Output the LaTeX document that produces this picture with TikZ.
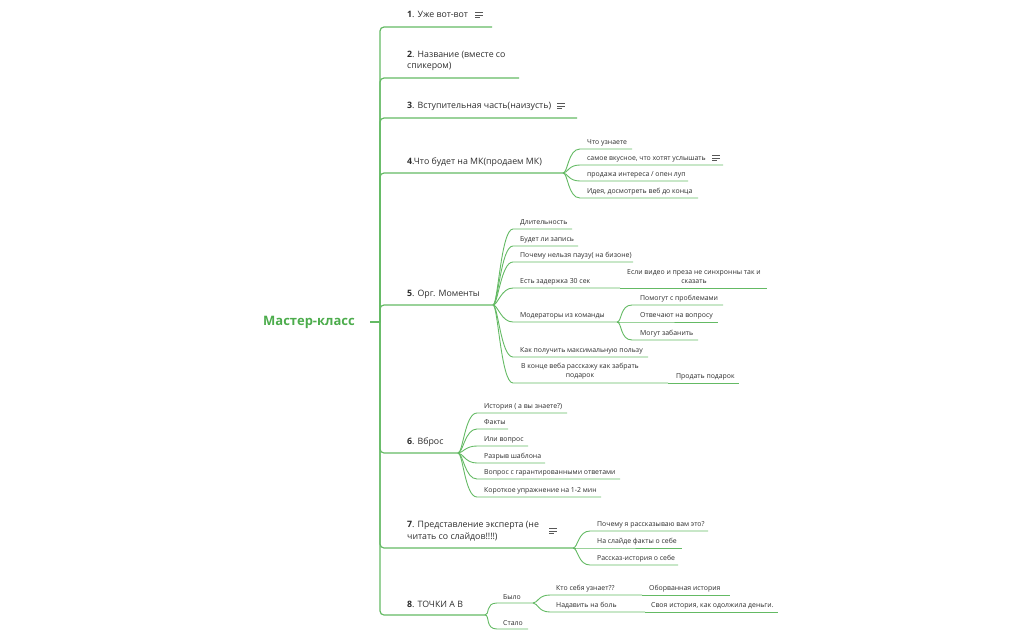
\documentclass[tikz,border=0pt]{standalone}
\usepackage{fontspec}
\setmainfont{Open Sans}
\usetikzlibrary{calc}

\definecolor{linegreen}{RGB}{100,186,100}
\definecolor{rootgreen}{RGB}{76,172,76}
\definecolor{txtgray}{RGB}{45,45,45}

\tikzset{
  txt/.style={text=txtgray, inner sep=0pt, anchor=west},
  main/.style={txt, font=\fontsize{8.8}{11}\selectfont, text height=0.75em, text depth=0.25em},
  maintwo/.style={txt, font=\fontsize{8.8}{11.5}\selectfont, align=left},
  sub/.style={txt, font=\fontsize{6.9}{8.6}\selectfont, text height=0.75em, text depth=0.25em},
  subtwo/.style={txt, font=\fontsize{6.9}{8.6}\selectfont, align=center, anchor=center},
  trunk/.style={draw=linegreen, line width=1.2pt, rounded corners=4pt},
  link/.style={draw=linegreen, line width=0.9pt},
  fan/.style={to path={.. controls +(5,0) and +(-12,0) .. (\tikztotarget)}},
  notes/.pic={\draw[txtgray!80, line width=0.55pt] (0,-2.3) -- (8,-2.3) (0,0) -- (8,0) (0,2.3) -- (5,2.3);}
}

\begin{document}
\begin{tikzpicture}[x=1pt, y=-1pt]
    \useasboundingbox (0,0) rectangle (1025,635);
    % Центр
    \node[font=\fontsize{13}{15}\selectfont\bfseries, text=rootgreen, inner sep=0pt] (root) at (309,322) {Мастер-класс};
    \coordinate (hub) at (380,322);
    \draw[trunk] ([xshift=15pt]root.east) -- (hub);
    % Главные ветки
    \foreach \n/\y/\e in {1/27/492, 2/78/519, 3/118/577, 4/173/563, 5/305/493, 6/453/458, 7/548/573, 8/615/485} {
        \coordinate (m\n) at (\e,\y);
        \draw[trunk] (hub) |- (m\n);
    }
    \node[main] (t1) at (407,15) {\textbf{1}. Уже вот-вот};
    \pic at (475,15) {notes};
    \node[maintwo] (t2) at (407,61) {\textbf{2}. Название (вместе со\\спикером)};
    \node[main] (t3) at (407,106) {\textbf{3}. Вступительная часть(наизусть)};
    \pic at (557,106) {notes};
    \node[main] (t4) at (407,162) {\textbf{4}.Что будет на МК(продаем МК)};
    \node[main] (t5) at (407,294) {\textbf{5}. Орг. Моменты};
    \node[main] (t6) at (407,442) {\textbf{6}. Вброс};
    \node[maintwo] (t7) at (407,531) {\textbf{7}. Представление эксперта (не\\читать со слайдов!!!!)};
    \pic at (549,531) {notes};
    \node[main] (t8) at (407,605) {\textbf{8}. ТОЧКИ А В};

    % 4. Что будет на МК
    \foreach \n/\y/\e/\lbl in {1/149/632/{Что узнаете}, 2/165/723/{самое вкусное, что хотят услышать}, 3/181/688/{продажа интереса / опен луп}, 4/198/698/{Идея, досмотреть веб до конца}} {
        \coordinate (as\n) at (580,\y);
        \coordinate (ae\n) at (\e,\y);
        \node[sub] (a\n) at (587,\y-7) {\lbl};
        \draw[link] (m4) to[fan] (as\n) -- (ae\n);
    }
    \pic at (712,158) {notes};

    % 5. Орг. Моменты
    \foreach \n/\y/\e/\lbl in {1/229/572/Длительность, 2/246/578/{Будет ли запись}, 3/262/633/{Почему нельзя паузу( на бизоне)}, 4/288/620/{Есть задержка 30 сек}, 5/322/617/{Модераторы из команды}, 6/357/648/{Как получить максимальную пользу}} {
        \coordinate (bs\n) at (513,\y);
        \coordinate (be\n) at (\e,\y);
        \node[sub] (b\n) at (520,\y-7) {\lbl};
        \draw[link] (m5) to[fan] (bs\n) -- (be\n);
    }
    \coordinate (bs7) at (513,383);
    \coordinate (be7) at (668,383);
    \node[subtwo] (b7) at (580,371) {В конце веба расскажу как забрать\\подарок};
    \draw[link] (m5) to[fan] (bs7) -- (be7);
    % внуки
    \coordinate (ge1) at (767,288);
    \node[subtwo] (g1) at (694,276.5) {Если видео и преза не синхронны так и\\сказать};
    \draw[link] (be4) -- (ge1);
    \foreach \n/\y/\e/\lbl in {1/305/723/{Помогут с проблемами}, 2/322/718/{Отвечают на вопросу}, 3/340/698/{Могут забанить}} {
        \coordinate (hs\n) at (632,\y);
        \coordinate (he\n) at (\e,\y);
        \node[sub] (h\n) at (640,\y-7) {\lbl};
        \draw[link] (be5) to[fan] (hs\n) -- (he\n);
    }
    \coordinate (ge2) at (739,383);
    \node[sub] (g2) at (676,376) {Продать подарок};
    \draw[link] (be7) -- (ge2);

    % 6. Вброс
    \foreach \n/\y/\e/\lbl in {1/413/567/{История ( а вы знаете?)}, 2/429/508/Факты, 3/446/528/{Или вопрос}, 4/463/545/{Разрыв шаблона}, 5/479/620/{Вопрос с гарантированными ответами}, 6/497/601/{Короткое упражнение на 1-2 мин}} {
        \coordinate (cs\n) at (477,\y);
        \coordinate (ce\n) at (\e,\y);
        \node[sub] (c\n) at (484,\y-7) {\lbl};
        \draw[link] (m6) to[fan] (cs\n) -- (ce\n);
    }

    % 7. Представление эксперта
    \foreach \n/\y/\e/\lbl in {1/531/708/{Почему я рассказываю вам это?}, 2/548/682/{На слайде факты о себе}, 3/565/678/{Рассказ-история о себе}} {
        \coordinate (ds\n) at (590,\y);
        \coordinate (de\n) at (\e,\y);
        \node[sub] (d\n) at (597,\y-7) {\lbl};
        \draw[link] (m7) to[fan] (ds\n) -- (de\n);
    }

    % 8. ТОЧКИ А В
    \foreach \n/\y/\e/\lbl in {1/603/533/Было, 2/629/528/Стало} {
        \coordinate (es\n) at (497,\y);
        \coordinate (ee\n) at (\e,\y);
        \node[sub] (e\n) at (503,\y-6.5) {\lbl};
        \draw[link] (m8) to[fan] (es\n) -- (ee\n);
    }
    \foreach \n/\y/\e/\lbl in {1/595/642/{Кто себя узнает??}, 2/612/645/{Надавить на боль}} {
        \coordinate (fs\n) at (550,\y);
        \coordinate (fe\n) at (\e,\y);
        \node[sub] (f\n) at (556,\y-7) {\lbl};
        \draw[link] (ee1) to[fan] (fs\n) -- (fe\n);
    }
    \coordinate (ke1) at (730,595);
    \node[sub] (k1) at (649,588) {Оборванная история};
    \draw[link] (fe1) -- (ke1);
    \coordinate (ke2) at (778,612);
    \node[sub] (k2) at (651,605) {Своя история, как одолжила деньги.};
    \draw[link] (fe2) -- (ke2);
\end{tikzpicture}
\end{document}
